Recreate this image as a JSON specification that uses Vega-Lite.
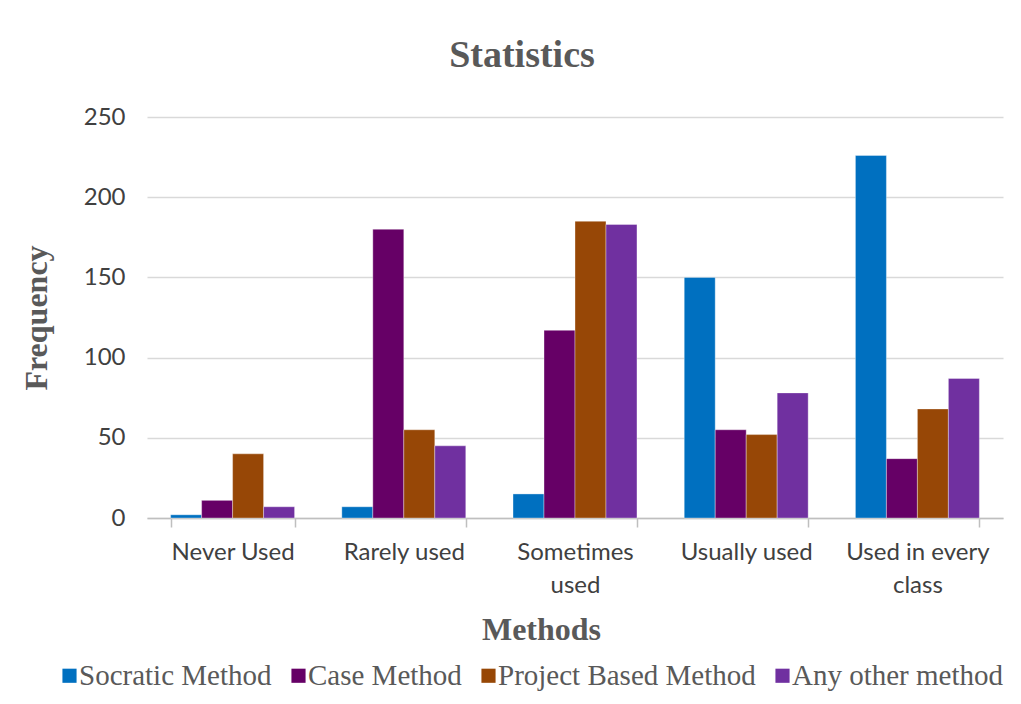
{
  "$schema": "https://vega.github.io/schema/vega-lite/v6.json",
  "width": 856,
  "height": 401,
  "autosize": {"type": "none"},
  "padding": {"left": 147, "top": 117, "right": 18, "bottom": 186},
  "background": "white",
  "title": {
    "text": "Statistics",
    "font": "Liberation Serif",
    "fontSize": 38,
    "fontWeight": "bold",
    "color": "#595959",
    "offset": 30,
    "dx": -53
  },
  "data": {
    "values": [
      {"usage": "Never Used", "method": "Socratic Method", "frequency": 2},
      {"usage": "Never Used", "method": "Case Method", "frequency": 11},
      {"usage": "Never Used", "method": "Project Based Method", "frequency": 40},
      {"usage": "Never Used", "method": "Any other method", "frequency": 7},
      {"usage": "Rarely used", "method": "Socratic Method", "frequency": 7},
      {"usage": "Rarely used", "method": "Case Method", "frequency": 180},
      {"usage": "Rarely used", "method": "Project Based Method", "frequency": 55},
      {"usage": "Rarely used", "method": "Any other method", "frequency": 45},
      {"usage": "Sometimes used", "method": "Socratic Method", "frequency": 15},
      {"usage": "Sometimes used", "method": "Case Method", "frequency": 117},
      {"usage": "Sometimes used", "method": "Project Based Method", "frequency": 185},
      {"usage": "Sometimes used", "method": "Any other method", "frequency": 183},
      {"usage": "Usually used", "method": "Socratic Method", "frequency": 150},
      {"usage": "Usually used", "method": "Case Method", "frequency": 55},
      {"usage": "Usually used", "method": "Project Based Method", "frequency": 52},
      {"usage": "Usually used", "method": "Any other method", "frequency": 78},
      {"usage": "Used in every class", "method": "Socratic Method", "frequency": 226},
      {"usage": "Used in every class", "method": "Case Method", "frequency": 37},
      {"usage": "Used in every class", "method": "Project Based Method", "frequency": 68},
      {"usage": "Used in every class", "method": "Any other method", "frequency": 87}
    ]
  },
  "mark": {"type": "bar", "stroke": "white", "strokeOpacity": 0.35, "strokeWidth": 1},
  "encoding": {
    "x": {
      "field": "usage",
      "type": "nominal",
      "sort": ["Never Used", "Rarely used", "Sometimes used", "Usually used", "Used in every class"],
      "scale": {"paddingInner": 0.276, "paddingOuter": 0.138},
      "axis": {
        "title": "Methods",
        "titleFont": "Liberation Serif",
        "titleFontSize": 32,
        "titleFontWeight": "bold",
        "titleColor": "#595959",
        "titlePadding": 17,
        "titleX": 394,
        "titleAlign": "center",
        "labelAngle": 0,
        "labelFont": "Lato",
        "labelFontSize": 24,
        "labelColor": "#404040",
        "labelPadding": 13,
        "labelLineHeight": 33,
        "labelExpr": "datum.value == 'Sometimes used' ? ['Sometimes', 'used'] : datum.value == 'Used in every class' ? ['Used in every', 'class'] : datum.value",
        "domainColor": "#bfbfbf",
        "domainWidth": 1.5,
        "ticks": true,
        "tickBand": "extent",
        "tickColor": "#bfbfbf",
        "tickWidth": 1.5,
        "tickSize": 9
      }
    },
    "xOffset": {
      "field": "method",
      "type": "nominal",
      "sort": ["Socratic Method", "Case Method", "Project Based Method", "Any other method"]
    },
    "y": {
      "field": "frequency",
      "type": "quantitative",
      "scale": {"domain": [0, 250], "nice": false},
      "axis": {
        "title": "Frequency",
        "titleFont": "Liberation Serif",
        "titleFontSize": 32,
        "titleFontWeight": "bold",
        "titleColor": "#595959",
        "titlePadding": 30,
        "values": [0, 50, 100, 150, 200, 250],
        "labelFont": "Lato",
        "labelFontSize": 24,
        "labelColor": "#404040",
        "labelPadding": 22,
        "domain": false,
        "ticks": false,
        "grid": true,
        "gridColor": "#d9d9d9",
        "gridWidth": 1.5
      }
    },
    "color": {
      "field": "method",
      "type": "nominal",
      "sort": ["Socratic Method", "Case Method", "Project Based Method", "Any other method"],
      "scale": {
        "domain": ["Socratic Method", "Case Method", "Project Based Method", "Any other method"],
        "range": ["#0070c0", "#660066", "#974706", "#7030a0"]
      },
      "legend": {
        "title": null,
        "orient": "none",
        "legendX": -92,
        "legendY": 544,
        "direction": "horizontal",
        "symbolType": "square",
        "symbolSize": 200,
        "symbolStrokeWidth": 0,
        "labelFont": "Liberation Serif",
        "labelFontSize": 29,
        "labelColor": "#595959",
        "labelOffset": -5,
        "columnPadding": 12,
        "labelLimit": 400
      }
    }
  },
  "config": {
    "view": {"stroke": null}
  }
}
